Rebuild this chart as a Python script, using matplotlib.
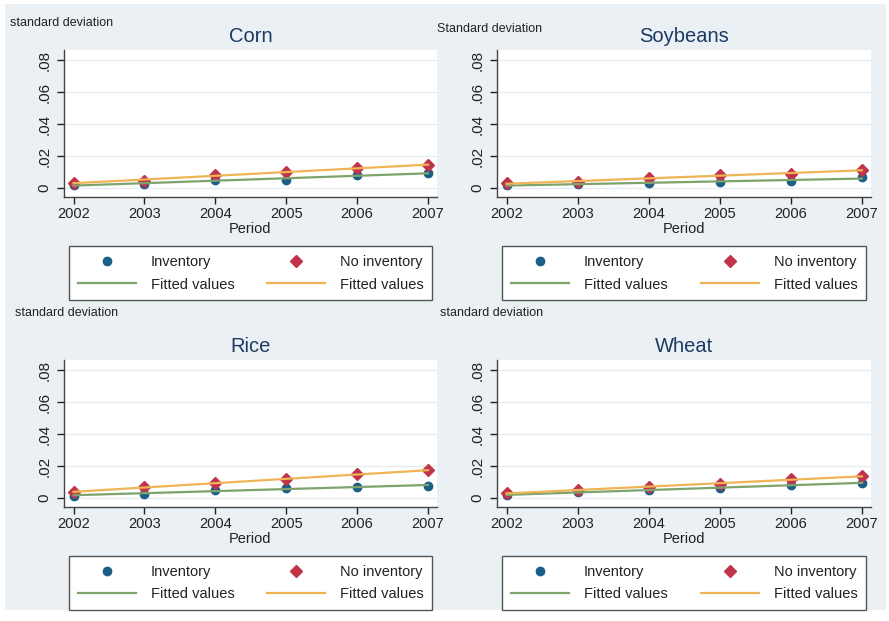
import numpy as np
import matplotlib
matplotlib.use("Agg")
import matplotlib.pyplot as plt
from matplotlib.patches import Rectangle
from matplotlib.lines import Line2D

plt.rcParams["font.family"] = ["Liberation Sans", "DejaVu Sans"]

# Standard deviation by year, per crop
years = [2002, 2003, 2004, 2005, 2006, 2007]
crops = ["Corn", "Soybeans", "Rice", "Wheat"]
ylabels = ["standard deviation", "Standard deviation", "standard deviation", "standard deviation"]

corn_inv = [0.0020, 0.0027, 0.0048, 0.0050, 0.0079, 0.0096]
corn_noinv = [0.0033, 0.0046, 0.0079, 0.0100, 0.0127, 0.0143]
soy_inv = [0.0017, 0.0025, 0.0033, 0.0037, 0.0044, 0.0066]
soy_noinv = [0.0031, 0.0037, 0.0062, 0.0079, 0.0089, 0.0114]
rice_inv = [0.0015, 0.0027, 0.0048, 0.0060, 0.0069, 0.0077]
rice_noinv = [0.0037, 0.0066, 0.0094, 0.0120, 0.0148, 0.0172]
wheat_inv = [0.0021, 0.0035, 0.0048, 0.0062, 0.0081, 0.0096]
wheat_noinv = [0.0031, 0.0048, 0.0071, 0.0089, 0.0118, 0.0135]

inventory = [corn_inv, soy_inv, rice_inv, wheat_inv]
no_inventory = [corn_noinv, soy_noinv, rice_noinv, wheat_noinv]

yticks = [0, 0.02, 0.04, 0.06, 0.08]
ytick_labels = ["0", ".02", ".04", ".06", ".08"]

c_inv = "#1b5e86"
c_noinv = "#c0344a"
c_fit_inv = "#7fa36c"
c_fit_noinv = "#efb456"
c_title = "#1e3a64"
c_bg = "#eaf0f3"

W, H = 889, 621
fig = plt.figure(figsize=(W / 100, H / 100), dpi=100, facecolor="white")
fig.patches.append(Rectangle((5 / W, 1 - 610 / H), 881 / W, 606 / H,
                             transform=fig.transFigure, facecolor=c_bg,
                             edgecolor="none", zorder=-10))

# panel layout in pixels: (axes left, axes right, axes top, axes bottom)
panels = [(64, 437, 50, 197), (497, 871, 50, 197),
          (64, 437, 360, 507), (497, 871, 360, 507)]
ylab_pos = [(10, 23), (437, 29), (15, 313), (440, 313)]
title_y = [37, 37, 346, 346]

for i, crop in enumerate(crops):
    l, r, t, b = panels[i]
    ax = fig.add_axes([l / W, 1 - b / H, (r - l) / W, (b - t) / H])
    ax.set_facecolor("white")

    x = np.array(years)
    yi = np.array(inventory[i])
    yn = np.array(no_inventory[i])
    fit_i = np.polyval(np.polyfit(x, yi, 1), x)
    fit_n = np.polyval(np.polyfit(x, yn, 1), x)

    ax.plot(x, yi, "o", color=c_inv, ms=6, mec=c_inv, zorder=3)
    ax.plot(x, yn, "D", color=c_noinv, ms=6.5, mec=c_noinv, zorder=3)
    ax.plot(x, fit_i, "-", color=c_fit_inv, lw=1.6, zorder=4)
    ax.plot(x, fit_n, "-", color=c_fit_noinv, lw=1.6, zorder=4)

    ax.set_xlim(2001.866, 2007.127)
    ax.set_ylim(-0.005625, 0.08625)
    ax.set_xticks(years)
    ax.set_yticks(yticks)
    ax.set_yticklabels(ytick_labels, rotation=90, va="center")
    ax.tick_params(axis="both", labelsize=10.5, colors="#222222", length=5,
                   width=1, direction="out")
    ax.tick_params(axis="y", pad=4, labelsize=11)
    ax.tick_params(axis="x", pad=2)
    ax.grid(axis="y", color="#e6ecef", lw=1)
    ax.set_axisbelow(True)
    for s in ["top", "right"]:
        ax.spines[s].set_visible(False)
    for s in ["left", "bottom"]:
        ax.spines[s].set_color("#444444")
        ax.spines[s].set_linewidth(1)

    ax.set_xlabel("Period", fontsize=10.5, labelpad=1, color="#222222")

    fig.text(ylab_pos[i][0] / W, 1 - ylab_pos[i][1] / H, ylabels[i],
             fontsize=9, ha="left", va="center", color="#222222")
    fig.text((l + r) / 2 / W, 1 - title_y[i] / H, crop,
             fontsize=14.5, ha="center", va="center", color=c_title)

    handles = [
        Line2D([], [], ls="none", marker="o", color=c_inv, ms=6),
        Line2D([], [], color=c_fit_inv, lw=1.6),
        Line2D([], [], ls="none", marker="D", color=c_noinv, ms=6.5),
        Line2D([], [], color=c_fit_noinv, lw=1.6),
    ]
    labels = ["Inventory", "Fitted values", "No inventory", "Fitted values"]
    h = b - t
    # legend box sits 49 px below the x axis
    leg = ax.legend(handles, labels, ncol=2, loc="upper left",
                    bbox_to_anchor=(5 / (r - l), -49 / h, 1 - 10 / (r - l), 0),
                    mode="expand", fontsize=10.5, handlelength=4,
                    handletextpad=1.0, labelspacing=0.6, borderpad=0.6,
                    borderaxespad=0, fancybox=False, framealpha=1,
                    edgecolor="#555555", facecolor="white", numpoints=1)
    leg.get_frame().set_linewidth(1)
    for txt in leg.get_texts():
        txt.set_color("#222222")

fig.savefig("out.png", dpi=100, facecolor=fig.get_facecolor())
